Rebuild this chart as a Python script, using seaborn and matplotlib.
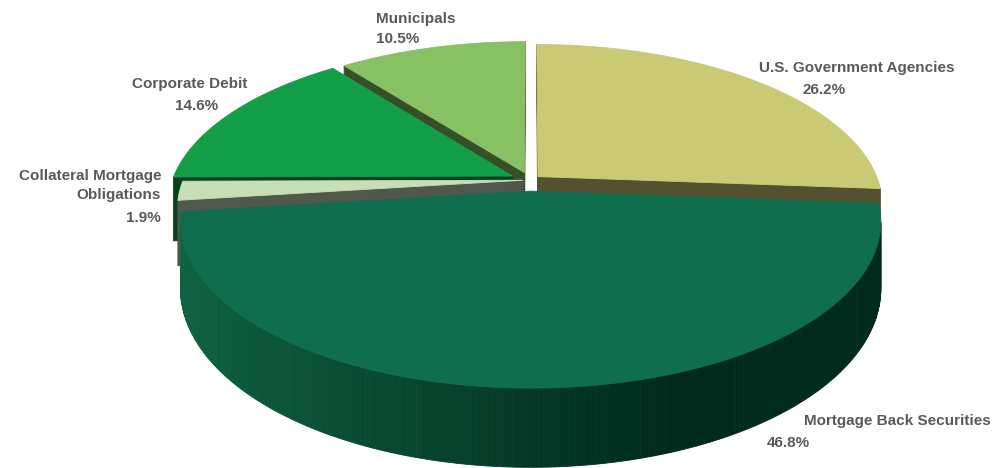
import numpy as np
import matplotlib
matplotlib.use("Agg")
import matplotlib.pyplot as plt
from matplotlib.patches import Polygon
from matplotlib.colors import to_rgb
import seaborn as sns

# ---------------- data ----------------
categories = ["U.S. Government Agencies", "Mortgage Back Securities",
              "Collateral Mortgage\nObligations", "Corporate Debit", "Municipals"]
values = [26.2, 46.8, 1.9, 14.6, 10.5]
pct_labels = ["26.2%", "46.8%", "1.9%", "14.6%", "10.5%"]

# ---------------- style ----------------
top_colors = ["#CBCA74", "#0E6E4E", "#C6DFB6", "#139E48", "#88C064"]
side_colors = ["#545130", "#0F6443", "#4F584B", "#0A401F", "#364F28"]
rim_dark = ["#545130", "#002A1C", "#4F584B", "#0A401F", "#364F28"]
explode = [0.032, 0.07, 0.02, 0.058, 0.05]
draw_order = [4, 0, 3, 2, 1]

# label layout: (name x, name baseline, ha, pct x, pct baseline, pct ha)
label_layout = [
    (857, 72, "center", 824, 94, "center"),
    (804, 425, "left", 767, 447, "left"),
    (161, 180, "right", 161, 222, "right"),
    (190, 88, "center", 197, 110, "center"),
    (376, 23, "left", 376, 43, "left"),
]
LINE_STEP = 18.5
TEXT_COLOR = "#58595B"

# projection parameters (pixel space)
CX, CY = 530, 180
R, RV, D, K = 340, 157, 64, 0.18

sns.set_style("white")
plt.rcParams["font.family"] = ["Liberation Sans", "DejaVu Sans"]

fig = plt.figure(figsize=(9.97, 4.68), dpi=100)
ax = fig.add_axes([0, 0, 1, 1])
ax.set_xlim(0, 997)
ax.set_ylim(468, 0)
ax.axis("off")


def proj(X, Y, z):
    s = 1.0 / (1.0 + K * Y)
    return CX + R * X * s, CY + s * (-RV * Y + D * z)


def area(pts):
    pts = np.asarray(pts)
    x, y = pts[:, 0], pts[:, 1]
    return 0.5 * np.sum(x * np.roll(y, -1) - np.roll(x, -1) * y)


def lerp(c1, c2, t):
    a, b = np.array(to_rgb(c1)), np.array(to_rgb(c2))
    return tuple(a + (b - a) * t)


total = sum(values)
spans = []
start = 90.0
for v in values:
    sweep = v / total * 360.0
    spans.append((start - sweep, start))
    start -= sweep

for i in draw_order:
    t0, t1 = spans[i]
    mid = np.deg2rad((t0 + t1) / 2)
    ox, oy = explode[i] * np.cos(mid), explode[i] * np.sin(mid)
    th = np.deg2rad(np.linspace(t0, t1, 240))
    Xs, Ys = ox + np.cos(th), oy + np.sin(th)

    # outer rim (front-facing pieces only)
    for j in range(len(th) - 1):
        q = [proj(Xs[j], Ys[j], 0), proj(Xs[j + 1], Ys[j + 1], 0),
             proj(Xs[j + 1], Ys[j + 1], 1), proj(Xs[j], Ys[j], 1)]
        if area(q) > 0:
            tt = (np.cos(th[j]) + 1) / 2
            f = float(np.clip(tt / 0.66, 0, 1)) ** 1.05
            col = lerp(side_colors[i], rim_dark[i], f)
            ax.add_patch(Polygon(q, closed=True, facecolor=col, edgecolor=col,
                                 lw=0.6, zorder=1))

    # radial cut faces
    c_top, c_bot = proj(ox, oy, 0), proj(ox, oy, 1)
    faces = [
        [proj(Xs[0], Ys[0], 0), c_top, c_bot, proj(Xs[0], Ys[0], 1)],
        [c_top, proj(Xs[-1], Ys[-1], 0), proj(Xs[-1], Ys[-1], 1), c_bot],
    ]
    for f in faces:
        if area(f) < 0:
            ax.add_patch(Polygon(f, closed=True, facecolor=side_colors[i],
                                 edgecolor=side_colors[i], lw=0.6, zorder=1))

    # top face
    top = [c_top] + [proj(x, y, 0) for x, y in zip(Xs, Ys)]
    ax.add_patch(Polygon(top, closed=True, facecolor=top_colors[i],
                         edgecolor=top_colors[i], lw=0.6, zorder=1))

# labels
for i, (nx, ny, nha, px, py, pha) in enumerate(label_layout):
    for k, line in enumerate(categories[i].split("\n")):
        ax.text(nx, ny + k * LINE_STEP, line, ha=nha, va="baseline",
                fontsize=11, fontweight="bold", color=TEXT_COLOR)
    ax.text(px, py, pct_labels[i], ha=pha, va="baseline",
            fontsize=11, fontweight="bold", color=TEXT_COLOR)

fig.savefig("out.png", dpi=100, facecolor="white")
